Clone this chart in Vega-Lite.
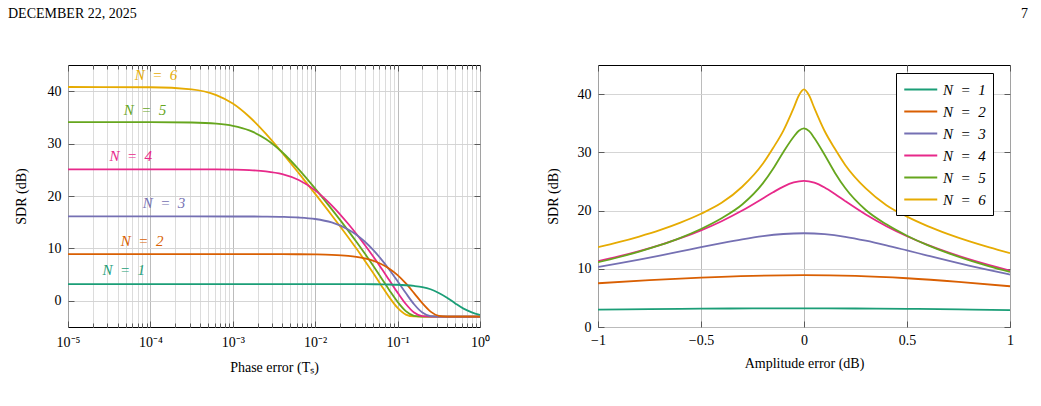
{
  "$schema": "https://vega.github.io/schema/vega-lite/v6.json",
  "background": "white",
  "padding": {"left": 7, "top": 6, "right": 5, "bottom": 5},
  "bounds": "flush",
  "spacing": 118,
  "resolve": {"scale": {"color": "independent"}, "legend": {"color": "independent"}},
  "config": {
    "font": "Liberation Serif",
    "view": {"stroke": "#000000", "strokeWidth": 1},
    "axis": {
      "labelFont": "Liberation Serif",
      "labelFontSize": 14,
      "labelColor": "#000000",
      "titleFont": "Liberation Serif",
      "titleFontSize": 14,
      "titleFontWeight": "normal",
      "titleColor": "#000000",
      "domain": false,
      "tickColor": "#4d4d4d",
      "tickWidth": 0.9,
      "gridWidth": 0.9
    },
    "legend": {"labelFont": "Liberation Serif"},
    "text": {"font": "Liberation Serif"},
    "title": {"font": "Liberation Serif", "fontSize": 14, "fontWeight": "normal", "color": "#000000"},
    "line": {"strokeWidth": 1.8, "interpolate": "monotone"}
  },
  "datasets": {
    "phase": [
      {"series": "N\u2002=\u20026", "tau": 0.00001, "sdr": 40.8},
      {"series": "N\u2002=\u20026", "tau": 0.0001, "sdr": 40.75},
      {"series": "N\u2002=\u20026", "tau": 0.00031623, "sdr": 40.36},
      {"series": "N\u2002=\u20026", "tau": 0.00063096, "sdr": 39.25},
      {"series": "N\u2002=\u20026", "tau": 0.001, "sdr": 37.64},
      {"series": "N\u2002=\u20026", "tau": 0.0015849, "sdr": 35.12},
      {"series": "N\u2002=\u20026", "tau": 0.0025119, "sdr": 31.9},
      {"series": "N\u2002=\u20026", "tau": 0.0039811, "sdr": 28.24},
      {"series": "N\u2002=\u20026", "tau": 0.0063096, "sdr": 24.37},
      {"series": "N\u2002=\u20026", "tau": 0.01, "sdr": 20.4},
      {"series": "N\u2002=\u20026", "tau": 0.015849, "sdr": 16.34},
      {"series": "N\u2002=\u20026", "tau": 0.025119, "sdr": 12.14},
      {"series": "N\u2002=\u20026", "tau": 0.031623, "sdr": 9.97},
      {"series": "N\u2002=\u20026", "tau": 0.039811, "sdr": 7.71},
      {"series": "N\u2002=\u20026", "tau": 0.050119, "sdr": 5.38},
      {"series": "N\u2002=\u20026", "tau": 0.063096, "sdr": 2.99},
      {"series": "N\u2002=\u20026", "tau": 0.079433, "sdr": 0.65},
      {"series": "N\u2002=\u20026", "tau": 0.1, "sdr": -1.36},
      {"series": "N\u2002=\u20026", "tau": 0.12589, "sdr": -2.63},
      {"series": "N\u2002=\u20026", "tau": 0.15849, "sdr": -2.99},
      {"series": "N\u2002=\u20026", "tau": 0.19953, "sdr": -3.01},
      {"series": "N\u2002=\u20026", "tau": 0.31623, "sdr": -3.01},
      {"series": "N\u2002=\u20026", "tau": 1, "sdr": -3.01},

      {"series": "N\u2002=\u20025", "tau": 0.00001, "sdr": 34.1},
      {"series": "N\u2002=\u20025", "tau": 0.0001, "sdr": 34.09},
      {"series": "N\u2002=\u20025", "tau": 0.00031623, "sdr": 34.03},
      {"series": "N\u2002=\u20025", "tau": 0.00063096, "sdr": 33.81},
      {"series": "N\u2002=\u20025", "tau": 0.001, "sdr": 33.4},
      {"series": "N\u2002=\u20025", "tau": 0.0015849, "sdr": 32.53},
      {"series": "N\u2002=\u20025", "tau": 0.0025119, "sdr": 30.88},
      {"series": "N\u2002=\u20025", "tau": 0.0039811, "sdr": 28.35},
      {"series": "N\u2002=\u20025", "tau": 0.0063096, "sdr": 25.09},
      {"series": "N\u2002=\u20025", "tau": 0.01, "sdr": 21.41},
      {"series": "N\u2002=\u20025", "tau": 0.015849, "sdr": 17.49},
      {"series": "N\u2002=\u20025", "tau": 0.025119, "sdr": 13.39},
      {"series": "N\u2002=\u20025", "tau": 0.031623, "sdr": 11.26},
      {"series": "N\u2002=\u20025", "tau": 0.039811, "sdr": 9.06},
      {"series": "N\u2002=\u20025", "tau": 0.050119, "sdr": 6.78},
      {"series": "N\u2002=\u20025", "tau": 0.063096, "sdr": 4.42},
      {"series": "N\u2002=\u20025", "tau": 0.079433, "sdr": 2.03},
      {"series": "N\u2002=\u20025", "tau": 0.1, "sdr": -0.21},
      {"series": "N\u2002=\u20025", "tau": 0.12589, "sdr": -1.98},
      {"series": "N\u2002=\u20025", "tau": 0.15849, "sdr": -2.86},
      {"series": "N\u2002=\u20025", "tau": 0.19953, "sdr": -3.01},
      {"series": "N\u2002=\u20025", "tau": 0.31623, "sdr": -3.01},
      {"series": "N\u2002=\u20025", "tau": 1, "sdr": -3.01},

      {"series": "N\u2002=\u20024", "tau": 0.00001, "sdr": 25.1},
      {"series": "N\u2002=\u20024", "tau": 0.0001, "sdr": 25.1},
      {"series": "N\u2002=\u20024", "tau": 0.00031623, "sdr": 25.09},
      {"series": "N\u2002=\u20024", "tau": 0.00063096, "sdr": 25.07},
      {"series": "N\u2002=\u20024", "tau": 0.001, "sdr": 25.03},
      {"series": "N\u2002=\u20024", "tau": 0.0015849, "sdr": 24.94},
      {"series": "N\u2002=\u20024", "tau": 0.0025119, "sdr": 24.7},
      {"series": "N\u2002=\u20024", "tau": 0.0039811, "sdr": 24.16},
      {"series": "N\u2002=\u20024", "tau": 0.0063096, "sdr": 23.05},
      {"series": "N\u2002=\u20024", "tau": 0.01, "sdr": 21.08},
      {"series": "N\u2002=\u20024", "tau": 0.015849, "sdr": 18.23},
      {"series": "N\u2002=\u20024", "tau": 0.025119, "sdr": 14.7},
      {"series": "N\u2002=\u20024", "tau": 0.031623, "sdr": 12.75},
      {"series": "N\u2002=\u20024", "tau": 0.039811, "sdr": 10.7},
      {"series": "N\u2002=\u20024", "tau": 0.050119, "sdr": 8.54},
      {"series": "N\u2002=\u20024", "tau": 0.063096, "sdr": 6.27},
      {"series": "N\u2002=\u20024", "tau": 0.079433, "sdr": 3.92},
      {"series": "N\u2002=\u20024", "tau": 0.1, "sdr": 1.56},
      {"series": "N\u2002=\u20024", "tau": 0.12589, "sdr": -0.62},
      {"series": "N\u2002=\u20024", "tau": 0.15849, "sdr": -2.24},
      {"series": "N\u2002=\u20024", "tau": 0.19953, "sdr": -2.93},
      {"series": "N\u2002=\u20024", "tau": 0.25119, "sdr": -3.01},
      {"series": "N\u2002=\u20024", "tau": 1, "sdr": -3.01},

      {"series": "N\u2002=\u20023", "tau": 0.00001, "sdr": 16.1},
      {"series": "N\u2002=\u20023", "tau": 0.0001, "sdr": 16.1},
      {"series": "N\u2002=\u20023", "tau": 0.00031623, "sdr": 16.1},
      {"series": "N\u2002=\u20023", "tau": 0.001, "sdr": 16.09},
      {"series": "N\u2002=\u20023", "tau": 0.0015849, "sdr": 16.09},
      {"series": "N\u2002=\u20023", "tau": 0.0025119, "sdr": 16.07},
      {"series": "N\u2002=\u20023", "tau": 0.0039811, "sdr": 16.02},
      {"series": "N\u2002=\u20023", "tau": 0.0063096, "sdr": 15.9},
      {"series": "N\u2002=\u20023", "tau": 0.01, "sdr": 15.61},
      {"series": "N\u2002=\u20023", "tau": 0.015849, "sdr": 14.95},
      {"series": "N\u2002=\u20023", "tau": 0.025119, "sdr": 13.62},
      {"series": "N\u2002=\u20023", "tau": 0.031623, "sdr": 12.6},
      {"series": "N\u2002=\u20023", "tau": 0.039811, "sdr": 11.31},
      {"series": "N\u2002=\u20023", "tau": 0.050119, "sdr": 9.76},
      {"series": "N\u2002=\u20023", "tau": 0.063096, "sdr": 7.96},
      {"series": "N\u2002=\u20023", "tau": 0.079433, "sdr": 5.94},
      {"series": "N\u2002=\u20023", "tau": 0.1, "sdr": 3.74},
      {"series": "N\u2002=\u20023", "tau": 0.12589, "sdr": 1.47},
      {"series": "N\u2002=\u20023", "tau": 0.15849, "sdr": -0.66},
      {"series": "N\u2002=\u20023", "tau": 0.19953, "sdr": -2.25},
      {"series": "N\u2002=\u20023", "tau": 0.25119, "sdr": -2.93},
      {"series": "N\u2002=\u20023", "tau": 0.31623, "sdr": -3.01},
      {"series": "N\u2002=\u20023", "tau": 1, "sdr": -3.01},

      {"series": "N\u2002=\u20022", "tau": 0.00001, "sdr": 8.9},
      {"series": "N\u2002=\u20022", "tau": 0.001, "sdr": 8.9},
      {"series": "N\u2002=\u20022", "tau": 0.0025119, "sdr": 8.9},
      {"series": "N\u2002=\u20022", "tau": 0.0039811, "sdr": 8.89},
      {"series": "N\u2002=\u20022", "tau": 0.0063096, "sdr": 8.88},
      {"series": "N\u2002=\u20022", "tau": 0.01, "sdr": 8.85},
      {"series": "N\u2002=\u20022", "tau": 0.015849, "sdr": 8.77},
      {"series": "N\u2002=\u20022", "tau": 0.025119, "sdr": 8.57},
      {"series": "N\u2002=\u20022", "tau": 0.031623, "sdr": 8.38},
      {"series": "N\u2002=\u20022", "tau": 0.039811, "sdr": 8.1},
      {"series": "N\u2002=\u20022", "tau": 0.050119, "sdr": 7.66},
      {"series": "N\u2002=\u20022", "tau": 0.063096, "sdr": 7.02},
      {"series": "N\u2002=\u20022", "tau": 0.079433, "sdr": 6.12},
      {"series": "N\u2002=\u20022", "tau": 0.1, "sdr": 4.89},
      {"series": "N\u2002=\u20022", "tau": 0.12589, "sdr": 3.31},
      {"series": "N\u2002=\u20022", "tau": 0.15849, "sdr": 1.46},
      {"series": "N\u2002=\u20022", "tau": 0.19953, "sdr": -0.46},
      {"series": "N\u2002=\u20022", "tau": 0.25119, "sdr": -2.06},
      {"series": "N\u2002=\u20022", "tau": 0.31623, "sdr": -2.87},
      {"series": "N\u2002=\u20022", "tau": 0.39811, "sdr": -3.01},
      {"series": "N\u2002=\u20022", "tau": 1, "sdr": -3.01},

      {"series": "N\u2002=\u20021", "tau": 0.00001, "sdr": 3.2},
      {"series": "N\u2002=\u20021", "tau": 0.01, "sdr": 3.2},
      {"series": "N\u2002=\u20021", "tau": 0.025119, "sdr": 3.19},
      {"series": "N\u2002=\u20021", "tau": 0.039811, "sdr": 3.18},
      {"series": "N\u2002=\u20021", "tau": 0.063096, "sdr": 3.14},
      {"series": "N\u2002=\u20021", "tau": 0.079433, "sdr": 3.11},
      {"series": "N\u2002=\u20021", "tau": 0.1, "sdr": 3.06},
      {"series": "N\u2002=\u20021", "tau": 0.12589, "sdr": 2.97},
      {"series": "N\u2002=\u20021", "tau": 0.15849, "sdr": 2.83},
      {"series": "N\u2002=\u20021", "tau": 0.19953, "sdr": 2.61},
      {"series": "N\u2002=\u20021", "tau": 0.25119, "sdr": 2.2},
      {"series": "N\u2002=\u20021", "tau": 0.31623, "sdr": 1.5},
      {"series": "N\u2002=\u20021", "tau": 0.39811, "sdr": 0.6},
      {"series": "N\u2002=\u20021", "tau": 0.50119, "sdr": -0.5},
      {"series": "N\u2002=\u20021", "tau": 0.63096, "sdr": -1.5},
      {"series": "N\u2002=\u20021", "tau": 0.79433, "sdr": -2.2},
      {"series": "N\u2002=\u20021", "tau": 1, "sdr": -2.7}
    ],
    "tags": [
      {"series": "N\u2002=\u20026", "tau": 0.000117, "sdr": 43.1},
      {"series": "N\u2002=\u20025", "tau": 0.000086, "sdr": 36.5},
      {"series": "N\u2002=\u20024", "tau": 0.0000577, "sdr": 27.6},
      {"series": "N\u2002=\u20023", "tau": 0.000146, "sdr": 18.7},
      {"series": "N\u2002=\u20022", "tau": 0.0000794, "sdr": 11.35},
      {"series": "N\u2002=\u20021", "tau": 0.0000475, "sdr": 5.9}
    ],
    "amp": [
      {"series": "N\u2002=\u20021", "amp": -1, "sdr": 3.0},
      {"series": "N\u2002=\u20021", "amp": -0.75, "sdr": 3.08},
      {"series": "N\u2002=\u20021", "amp": -0.5, "sdr": 3.15},
      {"series": "N\u2002=\u20021", "amp": -0.25, "sdr": 3.19},
      {"series": "N\u2002=\u20021", "amp": 0, "sdr": 3.2},
      {"series": "N\u2002=\u20021", "amp": 0.25, "sdr": 3.18},
      {"series": "N\u2002=\u20021", "amp": 0.5, "sdr": 3.13},
      {"series": "N\u2002=\u20021", "amp": 0.75, "sdr": 3.03},
      {"series": "N\u2002=\u20021", "amp": 1, "sdr": 2.9},

      {"series": "N\u2002=\u20022", "amp": -1, "sdr": 7.51},
      {"series": "N\u2002=\u20022", "amp": -0.75, "sdr": 8.04},
      {"series": "N\u2002=\u20022", "amp": -0.5, "sdr": 8.49},
      {"series": "N\u2002=\u20022", "amp": -0.25, "sdr": 8.79},
      {"series": "N\u2002=\u20022", "amp": 0, "sdr": 8.9},
      {"series": "N\u2002=\u20022", "amp": 0.25, "sdr": 8.77},
      {"series": "N\u2002=\u20022", "amp": 0.5, "sdr": 8.37},
      {"series": "N\u2002=\u20022", "amp": 0.75, "sdr": 7.76},
      {"series": "N\u2002=\u20022", "amp": 1, "sdr": 7.0},

      {"series": "N\u2002=\u20023", "amp": -1, "sdr": 10.31},
      {"series": "N\u2002=\u20023", "amp": -0.9, "sdr": 10.93},
      {"series": "N\u2002=\u20023", "amp": -0.8, "sdr": 11.58},
      {"series": "N\u2002=\u20023", "amp": -0.7, "sdr": 12.27},
      {"series": "N\u2002=\u20023", "amp": -0.6, "sdr": 12.98},
      {"series": "N\u2002=\u20023", "amp": -0.5, "sdr": 13.7},
      {"series": "N\u2002=\u20023", "amp": -0.4, "sdr": 14.4},
      {"series": "N\u2002=\u20023", "amp": -0.3, "sdr": 15.05},
      {"series": "N\u2002=\u20023", "amp": -0.2, "sdr": 15.6},
      {"series": "N\u2002=\u20023", "amp": -0.1, "sdr": 15.97},
      {"series": "N\u2002=\u20023", "amp": 0, "sdr": 16.1},
      {"series": "N\u2002=\u20023", "amp": 0.1, "sdr": 15.94},
      {"series": "N\u2002=\u20023", "amp": 0.2, "sdr": 15.49},
      {"series": "N\u2002=\u20023", "amp": 0.3, "sdr": 14.82},
      {"series": "N\u2002=\u20023", "amp": 0.4, "sdr": 14.02},
      {"series": "N\u2002=\u20023", "amp": 0.5, "sdr": 13.15},
      {"series": "N\u2002=\u20023", "amp": 0.6, "sdr": 12.27},
      {"series": "N\u2002=\u20023", "amp": 0.7, "sdr": 11.4},
      {"series": "N\u2002=\u20023", "amp": 0.8, "sdr": 10.56},
      {"series": "N\u2002=\u20023", "amp": 0.9, "sdr": 9.76},
      {"series": "N\u2002=\u20023", "amp": 1, "sdr": 9.0},

      {"series": "N\u2002=\u20024", "amp": -1, "sdr": 11.31},
      {"series": "N\u2002=\u20024", "amp": -0.9, "sdr": 12.13},
      {"series": "N\u2002=\u20024", "amp": -0.8, "sdr": 13.05},
      {"series": "N\u2002=\u20024", "amp": -0.7, "sdr": 14.08},
      {"series": "N\u2002=\u20024", "amp": -0.6, "sdr": 15.26},
      {"series": "N\u2002=\u20024", "amp": -0.5, "sdr": 16.6},
      {"series": "N\u2002=\u20024", "amp": -0.4, "sdr": 18.17},
      {"series": "N\u2002=\u20024", "amp": -0.3, "sdr": 20.0},
      {"series": "N\u2002=\u20024", "amp": -0.2, "sdr": 22.08},
      {"series": "N\u2002=\u20024", "amp": -0.15, "sdr": 23.14},
      {"series": "N\u2002=\u20024", "amp": -0.1, "sdr": 24.12},
      {"series": "N\u2002=\u20024", "amp": -0.05, "sdr": 24.83},
      {"series": "N\u2002=\u20024", "amp": 0, "sdr": 25.1},
      {"series": "N\u2002=\u20024", "amp": 0.05, "sdr": 24.78},
      {"series": "N\u2002=\u20024", "amp": 0.1, "sdr": 23.95},
      {"series": "N\u2002=\u20024", "amp": 0.15, "sdr": 22.83},
      {"series": "N\u2002=\u20024", "amp": 0.2, "sdr": 21.62},
      {"series": "N\u2002=\u20024", "amp": 0.3, "sdr": 19.31},
      {"series": "N\u2002=\u20024", "amp": 0.4, "sdr": 17.3},
      {"series": "N\u2002=\u20024", "amp": 0.5, "sdr": 15.58},
      {"series": "N\u2002=\u20024", "amp": 0.6, "sdr": 14.1},
      {"series": "N\u2002=\u20024", "amp": 0.7, "sdr": 12.81},
      {"series": "N\u2002=\u20024", "amp": 0.8, "sdr": 11.66},
      {"series": "N\u2002=\u20024", "amp": 0.9, "sdr": 10.63},
      {"series": "N\u2002=\u20024", "amp": 1, "sdr": 9.69},

      {"series": "N\u2002=\u20025", "amp": -1, "sdr": 11.12},
      {"series": "N\u2002=\u20025", "amp": -0.9, "sdr": 11.98},
      {"series": "N\u2002=\u20025", "amp": -0.8, "sdr": 12.95},
      {"series": "N\u2002=\u20025", "amp": -0.7, "sdr": 14.05},
      {"series": "N\u2002=\u20025", "amp": -0.6, "sdr": 15.32},
      {"series": "N\u2002=\u20025", "amp": -0.5, "sdr": 16.84},
      {"series": "N\u2002=\u20025", "amp": -0.4, "sdr": 18.68},
      {"series": "N\u2002=\u20025", "amp": -0.3, "sdr": 21.04},
      {"series": "N\u2002=\u20025", "amp": -0.2, "sdr": 24.66},
      {"series": "N\u2002=\u20025", "amp": -0.15, "sdr": 27.18},
      {"series": "N\u2002=\u20025", "amp": -0.1, "sdr": 30.07},
      {"series": "N\u2002=\u20025", "amp": -0.05, "sdr": 32.68},
      {"series": "N\u2002=\u20025", "amp": -0.025, "sdr": 33.7},
      {"series": "N\u2002=\u20025", "amp": 0, "sdr": 34.1},
      {"series": "N\u2002=\u20025", "amp": 0.025, "sdr": 33.63},
      {"series": "N\u2002=\u20025", "amp": 0.05, "sdr": 32.47},
      {"series": "N\u2002=\u20025", "amp": 0.1, "sdr": 29.58},
      {"series": "N\u2002=\u20025", "amp": 0.15, "sdr": 26.51},
      {"series": "N\u2002=\u20025", "amp": 0.2, "sdr": 23.87},
      {"series": "N\u2002=\u20025", "amp": 0.3, "sdr": 20.1},
      {"series": "N\u2002=\u20025", "amp": 0.4, "sdr": 17.63},
      {"series": "N\u2002=\u20025", "amp": 0.5, "sdr": 15.68},
      {"series": "N\u2002=\u20025", "amp": 0.6, "sdr": 14.06},
      {"series": "N\u2002=\u20025", "amp": 0.7, "sdr": 12.68},
      {"series": "N\u2002=\u20025", "amp": 0.8, "sdr": 11.48},
      {"series": "N\u2002=\u20025", "amp": 0.9, "sdr": 10.41},
      {"series": "N\u2002=\u20025", "amp": 1, "sdr": 9.45},

      {"series": "N\u2002=\u20026", "amp": -1, "sdr": 13.7},
      {"series": "N\u2002=\u20026", "amp": -0.9, "sdr": 14.56},
      {"series": "N\u2002=\u20026", "amp": -0.8, "sdr": 15.54},
      {"series": "N\u2002=\u20026", "amp": -0.7, "sdr": 16.64},
      {"series": "N\u2002=\u20026", "amp": -0.6, "sdr": 17.93},
      {"series": "N\u2002=\u20026", "amp": -0.5, "sdr": 19.45},
      {"series": "N\u2002=\u20026", "amp": -0.4, "sdr": 21.32},
      {"series": "N\u2002=\u20026", "amp": -0.3, "sdr": 24.09},
      {"series": "N\u2002=\u20026", "amp": -0.2, "sdr": 28.03},
      {"series": "N\u2002=\u20026", "amp": -0.15, "sdr": 30.74},
      {"series": "N\u2002=\u20026", "amp": -0.1, "sdr": 33.74},
      {"series": "N\u2002=\u20026", "amp": -0.05, "sdr": 37.64},
      {"series": "N\u2002=\u20026", "amp": -0.025, "sdr": 39.77},
      {"series": "N\u2002=\u20026", "amp": 0, "sdr": 40.8},
      {"series": "N\u2002=\u20026", "amp": 0.025, "sdr": 39.76},
      {"series": "N\u2002=\u20026", "amp": 0.05, "sdr": 37.62},
      {"series": "N\u2002=\u20026", "amp": 0.1, "sdr": 33.66},
      {"series": "N\u2002=\u20026", "amp": 0.15, "sdr": 30.61},
      {"series": "N\u2002=\u20026", "amp": 0.2, "sdr": 27.84},
      {"series": "N\u2002=\u20026", "amp": 0.3, "sdr": 23.8},
      {"series": "N\u2002=\u20026", "amp": 0.4, "sdr": 20.93},
      {"series": "N\u2002=\u20026", "amp": 0.5, "sdr": 18.95},
      {"series": "N\u2002=\u20026", "amp": 0.6, "sdr": 17.33},
      {"series": "N\u2002=\u20026", "amp": 0.7, "sdr": 15.95},
      {"series": "N\u2002=\u20026", "amp": 0.8, "sdr": 14.74},
      {"series": "N\u2002=\u20026", "amp": 0.9, "sdr": 13.67},
      {"series": "N\u2002=\u20026", "amp": 1, "sdr": 12.7}
    ]
  },
  "hconcat": [
    {
      "width": 412,
      "height": 262,
      "title": {"text": "DECEMBER 22, 2025", "anchor": "start", "frame": "group", "dx": -60, "offset": 44},
      "layer": [
        {
          "data": {"name": "phase"},
          "mark": {"type": "line", "clip": true},
          "encoding": {
            "x": {
              "field": "tau", "type": "quantitative",
              "scale": {"type": "log", "domain": [0.00001, 1]},
              "axis": {
                "orient": "bottom",
                "title": "Phase error (T\u209b)",
                "values": [0.00001, 0.00002, 0.00003, 0.00004, 0.00005, 0.00006, 0.00007, 0.00008, 0.00009,
                           0.0001, 0.0002, 0.0003, 0.0004, 0.0005, 0.0006, 0.0007, 0.0008, 0.0009,
                           0.001, 0.002, 0.003, 0.004, 0.005, 0.006, 0.007, 0.008, 0.009,
                           0.01, 0.02, 0.03, 0.04, 0.05, 0.06, 0.07, 0.08, 0.09,
                           0.1, 0.2, 0.3, 0.4, 0.5, 0.6, 0.7, 0.8, 0.9, 1],
                "labelExpr": "abs(log(datum.value)/LN10 - round(log(datum.value)/LN10)) < 0.001 ? '10' + ['\u2070','\u207b\u00b9','\u207b\u00b2','\u207b\u00b3','\u207b\u2074','\u207b\u2075'][-round(log(datum.value)/LN10)] : ''",
                "labelOverlap": false,
                "labelFlush": false,
                "labelPadding": 14,
                "titlePadding": 9,
                "grid": true,
                "gridColor": {"condition": {"test": "abs(log(datum.value)/LN10 - round(log(datum.value)/LN10)) < 0.001", "value": "#b4b4b4"}, "value": "#d8d8d8"},
                "ticks": true,
                "tickSize": {"condition": {"test": "abs(log(datum.value)/LN10 - round(log(datum.value)/LN10)) < 0.001", "value": -6}, "value": -4}
              }
            },
            "y": {
              "field": "sdr", "type": "quantitative",
              "scale": {"domain": [-5, 45], "nice": false, "zero": false},
              "axis": {
                "title": "SDR (dB)",
                "values": [0, 10, 20, 30, 40],
                "grid": true,
                "gridColor": "#d0d0d0",
                "tickSize": -6,
                "labelPadding": 13,
                "titlePadding": 19
              }
            },
            "color": {
              "field": "series", "type": "nominal",
              "scale": {
                "domain": ["N\u2002=\u20021", "N\u2002=\u20022", "N\u2002=\u20023", "N\u2002=\u20024", "N\u2002=\u20025", "N\u2002=\u20026"],
                "range": ["#1b9e77", "#d95f02", "#7570b3", "#e7298a", "#66a61e", "#e6ab02"]
              },
              "legend": null
            }
          }
        },
        {
          "data": {"name": "tags"},
          "mark": {"type": "text", "fontSize": 15, "fontStyle": "italic", "align": "center", "baseline": "middle", "font": "Liberation Serif"},
          "encoding": {
            "x": {
              "field": "tau", "type": "quantitative",
              "axis": {
                "orient": "top", "title": null, "labels": false, "grid": false,
                "values": [0.00001, 0.00002, 0.00003, 0.00004, 0.00005, 0.00006, 0.00007, 0.00008, 0.00009,
                           0.0001, 0.0002, 0.0003, 0.0004, 0.0005, 0.0006, 0.0007, 0.0008, 0.0009,
                           0.001, 0.002, 0.003, 0.004, 0.005, 0.006, 0.007, 0.008, 0.009,
                           0.01, 0.02, 0.03, 0.04, 0.05, 0.06, 0.07, 0.08, 0.09,
                           0.1, 0.2, 0.3, 0.4, 0.5, 0.6, 0.7, 0.8, 0.9, 1],
                "tickSize": {"condition": {"test": "abs(log(datum.value)/LN10 - round(log(datum.value)/LN10)) < 0.001", "value": -6}, "value": -4}
              }
            },
            "y": {
              "field": "sdr", "type": "quantitative",
              "axis": {"orient": "right", "title": null, "labels": false, "grid": false, "values": [0, 10, 20, 30, 40], "tickSize": -6}
            },
            "text": {"field": "series"},
            "color": {"field": "series", "type": "nominal", "legend": null}
          }
        }
      ],
      "resolve": {"axis": {"x": "independent", "y": "independent"}}
    },
    {
      "width": 412,
      "height": 262,
      "title": {"text": "7", "anchor": "end", "frame": "group", "dx": 18, "offset": 44},
      "layer": [
        {
          "data": {"name": "amp"},
          "mark": {"type": "line", "clip": true},
          "encoding": {
            "x": {
              "field": "amp", "type": "quantitative",
              "scale": {"domain": [-1, 1], "nice": false},
              "axis": {
                "orient": "bottom",
                "title": "Amplitude error (dB)",
                "values": [-1, -0.5, 0, 0.5, 1],
                "format": "~g",
                "labelFlush": false,
                "labelPadding": 12,
                "titlePadding": 9,
                "grid": true,
                "gridColor": "#b4b4b4",
                "tickSize": -6
              }
            },
            "y": {
              "field": "sdr", "type": "quantitative",
              "scale": {"domain": [0, 45], "nice": false},
              "axis": {
                "title": "SDR (dB)",
                "values": [0, 10, 20, 30, 40],
                "grid": true,
                "gridColor": "#d0d0d0",
                "tickSize": -6,
                "labelPadding": 13,
                "titlePadding": 17
              }
            },
            "color": {
              "field": "series", "type": "nominal",
              "scale": {
                "domain": ["N\u2002=\u20021", "N\u2002=\u20022", "N\u2002=\u20023", "N\u2002=\u20024", "N\u2002=\u20025", "N\u2002=\u20026"],
                "range": ["#1b9e77", "#d95f02", "#7570b3", "#e7298a", "#66a61e", "#e6ab02"]
              },
              "legend": {
                "orient": "none",
                "legendX": 298,
                "legendY": 8,
                "title": null,
                "symbolType": "M-1,0L3,0",
                "symbolSize": 272,
                "symbolStrokeWidth": 2,
                "labelFont": "Liberation Serif",
                "labelFontSize": 15,
                "labelFontStyle": "italic",
                "labelColor": "#000000",
                "labelOffset": 21,
                "rowPadding": 4,
                "padding": 7,
                "strokeColor": "#000000",
                "fillColor": "#ffffff",
                "cornerRadius": 0
              }
            }
          }
        },
        {
          "data": {"name": "amp"},
          "mark": {"type": "line", "opacity": 0},
          "encoding": {
            "x": {
              "field": "amp", "type": "quantitative",
              "axis": {"orient": "top", "title": null, "labels": false, "grid": false, "values": [-1, -0.5, 0, 0.5, 1], "tickSize": -6}
            },
            "y": {
              "field": "sdr", "type": "quantitative",
              "axis": {"orient": "right", "title": null, "labels": false, "grid": false, "values": [0, 10, 20, 30, 40], "tickSize": -6}
            },
            "detail": {"field": "series"}
          }
        }
      ],
      "resolve": {"axis": {"x": "independent", "y": "independent"}}
    }
  ]
}
